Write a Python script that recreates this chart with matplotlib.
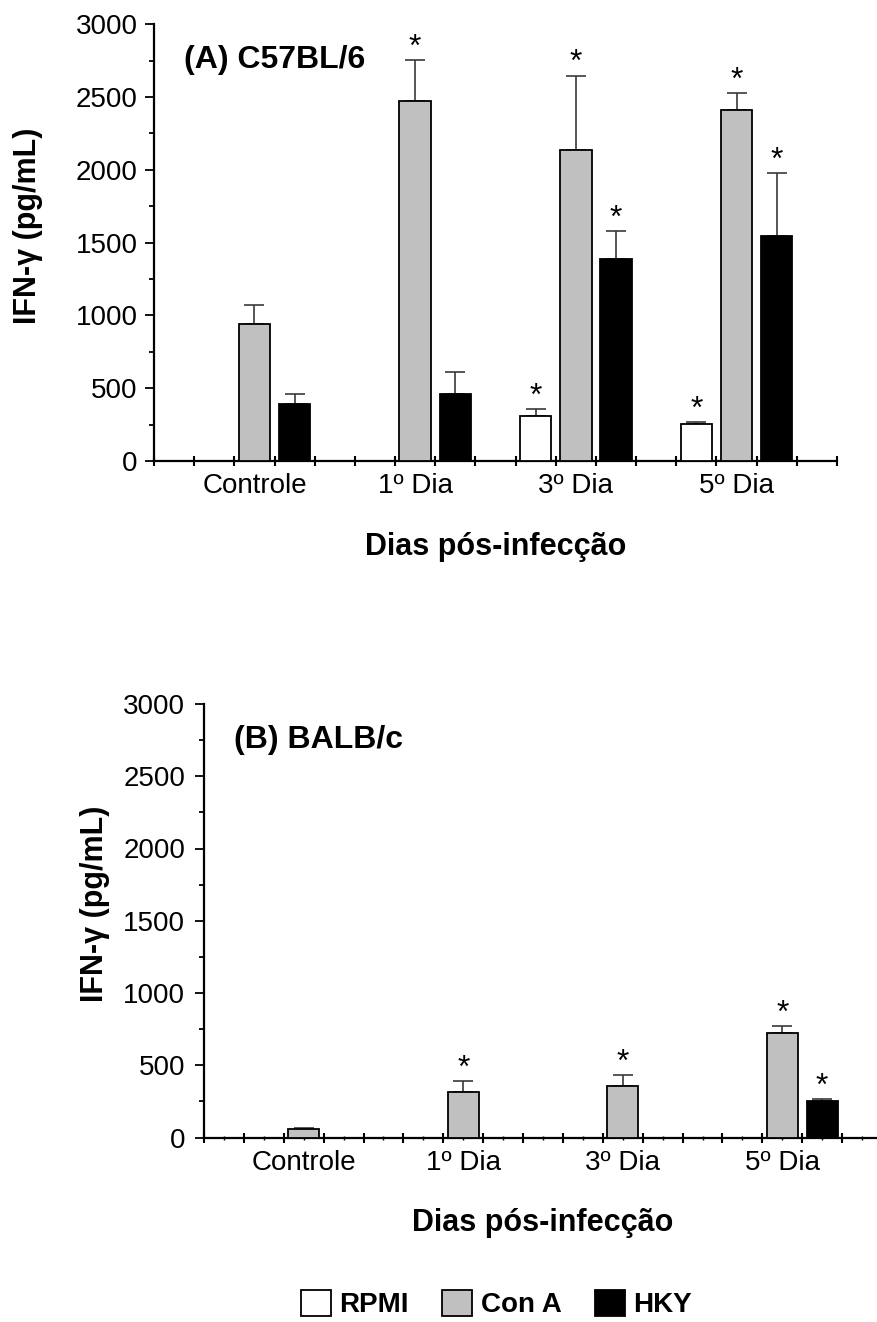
import numpy as np
import matplotlib
matplotlib.use("Agg")
import matplotlib.pyplot as plt
from matplotlib.patches import Patch

plt.rcParams['font.family'] = ['Liberation Sans', 'DejaVu Sans']

grupos = ['Controle', '1º Dia', '3º Dia', '5º Dia']
series = ['RPMI', 'Con A', 'HKY']
cores = ['#ffffff', '#c0c0c0', '#000000']

# (A) C57BL/6
a_rpmi = [0, 0, 310, 253]
a_rpmi_erro = [0, 0, 47, 15]
a_cona = [942, 2476, 2134, 2409]
a_cona_erro = [131, 280, 514, 121]
a_hky = [391, 458, 1390, 1545]
a_hky_erro = [69, 155, 192, 434]
a_rpmi_sig = [0, 0, 1, 1]
a_cona_sig = [0, 1, 1, 1]
a_hky_sig = [0, 0, 1, 1]

# (B) BALB/c
b_rpmi = [0, 0, 0, 0]
b_rpmi_erro = [0, 0, 0, 0]
b_cona = [62, 317, 359, 722]
b_cona_erro = [5, 76, 74, 50]
b_hky = [0, 0, 0, 255]
b_hky_erro = [0, 0, 0, 14]
b_rpmi_sig = [0, 0, 0, 0]
b_cona_sig = [0, 1, 1, 1]
b_hky_sig = [0, 0, 0, 1]


def painel(ax, medias, erros, sigs, titulo, marcas_meio, pad_y):
    n = len(grupos)
    for s in range(len(series)):
        x = np.arange(n) * 4 + 1 + s + 0.5
        h = np.array(medias[s], dtype=float)
        e = np.array(erros[s], dtype=float)
        ok = h > 0
        ax.bar(x[ok], h[ok], width=0.78, color=cores[s], edgecolor='black',
               linewidth=1.3, zorder=3)
        ax.errorbar(x[ok], h[ok], yerr=[np.zeros(ok.sum()), e[ok]], fmt='none',
                    ecolor='#3a3a3a', elinewidth=1.2, capsize=7, capthick=1.2, zorder=2)
        for xi, hi, ei, si in zip(x, h, e, sigs[s]):
            if si:
                ax.annotate('*', (xi, hi + ei), xytext=(0, 3), textcoords='offset points',
                            ha='center', va='baseline', fontsize=23)

    ax.set_xlim(0, 4 * n + 1)
    ax.set_ylim(0, 3000)
    for lado in ['top', 'right']:
        ax.spines[lado].set_visible(False)
    ax.spines['left'].set_linewidth(1.6)
    ax.spines['bottom'].set_linewidth(1.6)

    ax.set_yticks(range(0, 3001, 500))
    ax.set_yticks(range(250, 3000, 500), minor=True)
    ax.tick_params(axis='y', which='major', direction='out', length=6.5, width=1.3,
                   labelsize=20, pad=pad_y)
    ax.tick_params(axis='y', which='minor', direction='out', length=3.3, width=1.3)

    # marcas grandes nos limites de cada barra, nomes dos grupos no meio
    ax.set_xticks(np.arange(0, 4 * n + 2))
    ax.set_xticklabels([])
    ax.tick_params(axis='x', which='major', direction='inout', length=7.5, width=1.5)
    meios = np.arange(0.5, 4 * n + 1, 1)
    nomes = [''] * len(meios)
    for g in range(n):
        nomes[4 * g + 2] = grupos[g]
    ax.set_xticks(meios, minor=True)
    ax.set_xticklabels(nomes, minor=True)
    if marcas_meio:
        ax.tick_params(axis='x', which='minor', direction='inout', length=3, width=1.0,
                       labelsize=20, pad=7.5)
    else:
        ax.tick_params(axis='x', which='minor', length=0, labelsize=20, pad=8.5)

    ax.set_xlabel('Dias pós-infecção', fontsize=22, fontweight='bold')
    ax.xaxis.set_label_coords(0.5, -0.163)
    ax.set_ylabel('IFN-γ (pg/mL)', fontsize=22, fontweight='bold')
    ax.text(0.044, 0.918, titulo, transform=ax.transAxes, fontsize=23,
            fontweight='bold', ha='left', va='center')


fig = plt.figure(figsize=(8.77, 13.22), dpi=100)

ax1 = fig.add_axes([154 / 877, 1 - 461 / 1322, 683 / 877, 436.7 / 1322])
painel(ax1, [a_rpmi, a_cona, a_hky], [a_rpmi_erro, a_cona_erro, a_hky_erro],
       [a_rpmi_sig, a_cona_sig, a_hky_sig], '(A) C57BL/6', False, 5.3)
ax1.yaxis.set_label_coords(-0.1625, 0.538)

ax2 = fig.add_axes([204 / 877, 1 - 1137.5 / 1322, 678 / 877, 433.5 / 1322])
painel(ax2, [b_rpmi, b_cona, b_hky], [b_rpmi_erro, b_cona_erro, b_hky_erro],
       [b_rpmi_sig, b_cona_sig, b_hky_sig], '(B) BALB/c', True, 7)
ax2.yaxis.set_label_coords(-0.1386, 0.538)

alcas = [Patch(facecolor=c, edgecolor='black', linewidth=1.3) for c in cores]
fig.legend(alcas, series, loc='center', bbox_to_anchor=(0.566, 0.0136), ncol=3,
           frameon=False, handlelength=1.08, handleheight=1.08, handletextpad=0.3,
           columnspacing=1.2, borderpad=0, prop={'weight': 'bold', 'size': 20})

fig.savefig('out.png', dpi=100)
